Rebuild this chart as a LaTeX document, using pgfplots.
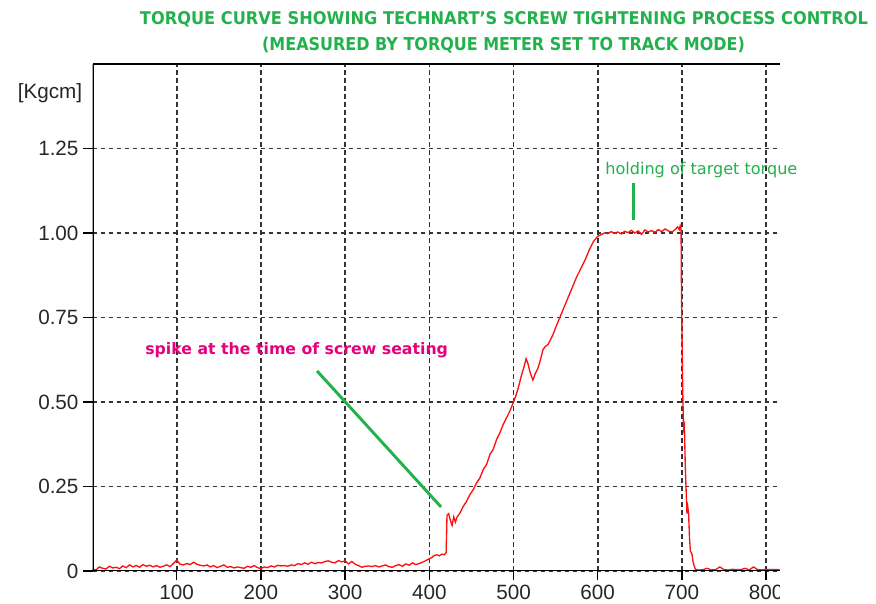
\documentclass[border=0pt]{standalone}
\usepackage{fontspec}
\setmainfont{Liberation Sans}
\newfontfamily\verd{DejaVu Sans}
\usepackage{graphicx}
\usepackage{pgfplots}
\pgfplotsset{compat=1.18}
\definecolor{tgreen}{HTML}{22B14C}
\definecolor{tmag}{HTML}{E6007E}
\definecolor{cred}{HTML}{FF1010}
\begin{document}
\begin{tikzpicture}
\useasboundingbox (-69.4pt,-24.75pt) rectangle (587.6pt,428.25pt);
\begin{axis}[
  scale only axis, width=515.6pt, height=380.25pt,
  xmin=0, xmax=816.5, ymin=0, ymax=1.5,
  axis line style={draw=none},
  xtick={100,200,300,400,500,600,700,800},
  xticklabels={100,200,300,400,500,600,700,800},
  ytick={0,0.25,0.5,0.75,1,1.25},
  yticklabels={0,0.25,0.50,0.75,1.00,1.25},
  xtick pos=bottom, ytick pos=left,
  tick align=outside, major tick length=7pt,
  tick style={black, line width=1.1pt},
  grid=major,
  major grid style={black!80, line width=1.2pt, dash pattern=on 3.6pt off 2.4pt},
  ticklabel style={font=\fontsize{15.5}{16}\selectfont, text=black!85},
]
\addplot[cred, line width=1pt] coordinates {
(0,0.005) (4,0.003) (8,0.012) (12,0.008) (16,0.006) (20,0.014) (24,0.009) (28,0.011) (32,0.007) (36,0.015)
(40,0.010) (44,0.018) (48,0.012) (52,0.016) (56,0.011) (60,0.019) (64,0.014) (68,0.017) (72,0.012) (76,0.016)
(80,0.011) (84,0.014) (88,0.018) (92,0.013) (96,0.022) (100,0.032) (104,0.020) (108,0.018) (112,0.022) (116,0.019)
(120,0.026) (124,0.020) (128,0.017) (132,0.015) (136,0.018) (140,0.012) (144,0.016) (148,0.010) (152,0.014) (156,0.018)
(160,0.011) (164,0.013) (168,0.009) (172,0.012) (176,0.010) (180,0.008) (184,0.014) (188,0.011) (192,0.016) (196,0.010)
(200,0.007) (204,0.012) (208,0.010) (212,0.015) (216,0.012) (220,0.017) (224,0.015) (228,0.016) (232,0.014) (236,0.018)
(240,0.016) (244,0.022) (248,0.019) (252,0.024) (256,0.020) (260,0.026) (264,0.022) (268,0.025) (272,0.024) (276,0.028)
(280,0.030) (284,0.026) (288,0.024) (292,0.031) (296,0.027) (300,0.030) (304,0.021) (308,0.028) (312,0.020) (316,0.016)
(320,0.011) (324,0.014) (328,0.015) (332,0.013) (336,0.016) (340,0.012) (344,0.015) (348,0.018) (352,0.013) (356,0.011)
(360,0.016) (364,0.019) (368,0.014) (372,0.021) (376,0.017) (380,0.024) (384,0.019) (388,0.022) (392,0.026) (396,0.031)
(400,0.036) (403,0.040) (406,0.046) (409,0.048) (412,0.045) (415,0.050) (418,0.048) (420,0.055) (421,0.165) (423,0.17)
(425,0.15) (427,0.135) (429,0.16) (431,0.145) (433,0.16) (436,0.17) (440,0.19) (444,0.205) (448,0.225) (452,0.24)
(456,0.26) (460,0.275) (464,0.30) (468,0.315) (472,0.345) (476,0.36) (480,0.39) (484,0.41) (488,0.435) (492,0.455)
(496,0.475) (500,0.50) (503,0.52) (506,0.545) (509,0.575) (512,0.60) (515,0.628) (517,0.615) (520,0.585) (523,0.565)
(526,0.585) (529,0.60) (532,0.625) (535,0.655) (538,0.665) (541,0.67) (544,0.685) (547,0.70) (550,0.72) (555,0.75)
(560,0.78) (565,0.81) (570,0.84) (575,0.87) (580,0.895) (585,0.92) (590,0.95) (595,0.975) (600,0.99) (604,0.995)
(608,1.0) (612,0.998) (616,1.004) (620,0.999) (624,1.003) (628,0.997) (632,1.005) (636,1.001) (640,1.008) (644,1.0)
(648,1.006) (652,0.996) (656,1.009) (660,1.003) (664,1.007) (668,1.002) (672,1.01) (676,1.004) (680,1.012) (684,1.006)
(688,1.003) (692,1.01) (695,1.018) (697,1.01) (698,1.022) (699,1.015) (699.5,0.82) (701,0.53) (702,0.42) (703,0.43)
(704,0.31) (706,0.17) (707,0.19) (708,0.17) (709,0.10) (710,0.06) (712,0.05) (713,0.03) (714,0.02) (716,0.005)
(720,0.003) (725,0.004) (730,0.008) (735,0.003) (740,0.004) (745,0.012) (750,0.004) (755,0.003) (760,0.005) (765,0.004)
(770,0.004) (775,0.008) (780,0.003) (785,0.012) (790,0.004) (795,0.003) (800,0.005) (805,0.004) (810,0.004) (816,0.004)
};
\draw[black, line width=1.5pt] (rel axis cs:0,1) -- (rel axis cs:1,1);
\draw[black, line width=1.5pt] (rel axis cs:0,1) -- (rel axis cs:0,0) -- (rel axis cs:1,0);
\end{axis}
\fill[white] (515.7pt,-30pt) rectangle (600pt,-0.8pt);
\node[inner sep=0, text=tgreen] at (308.6pt,413.6pt) {\resizebox{546pt}{9.75pt}{\verd\bfseries TORQUE CURVE SHOWING TECHNART’S SCREW TIGHTENING PROCESS CONTROL}};
\node[inner sep=0, text=tgreen] at (308.25pt,394.1pt) {\resizebox{362pt}{10.1pt}{\verd\bfseries (MEASURED BY TORQUE METER SET TO TRACK MODE)}};
\node[inner sep=0, text=black!85] at (-31.9pt,358.1pt) {\fontsize{15.5}{16}\selectfont [Kgcm]};
\node[anchor=base west, inner sep=0, text=tmag] at (39.4pt,162pt) {\resizebox{227pt}{!}{\verd\bfseries spike at the time of screw seating}};
\node[anchor=base west, inner sep=0, text=tgreen] at (384.4pt,297pt) {\resizebox{144pt}{!}{\verd holding of target torque}};
\draw[tgreen, line width=2.2pt] (168.4pt,150pt) -- (261.4pt,48pt);
\draw[tgreen, line width=2.2pt] (405.4pt,291pt) -- (405.4pt,263.25pt);
\end{tikzpicture}
\end{document}
